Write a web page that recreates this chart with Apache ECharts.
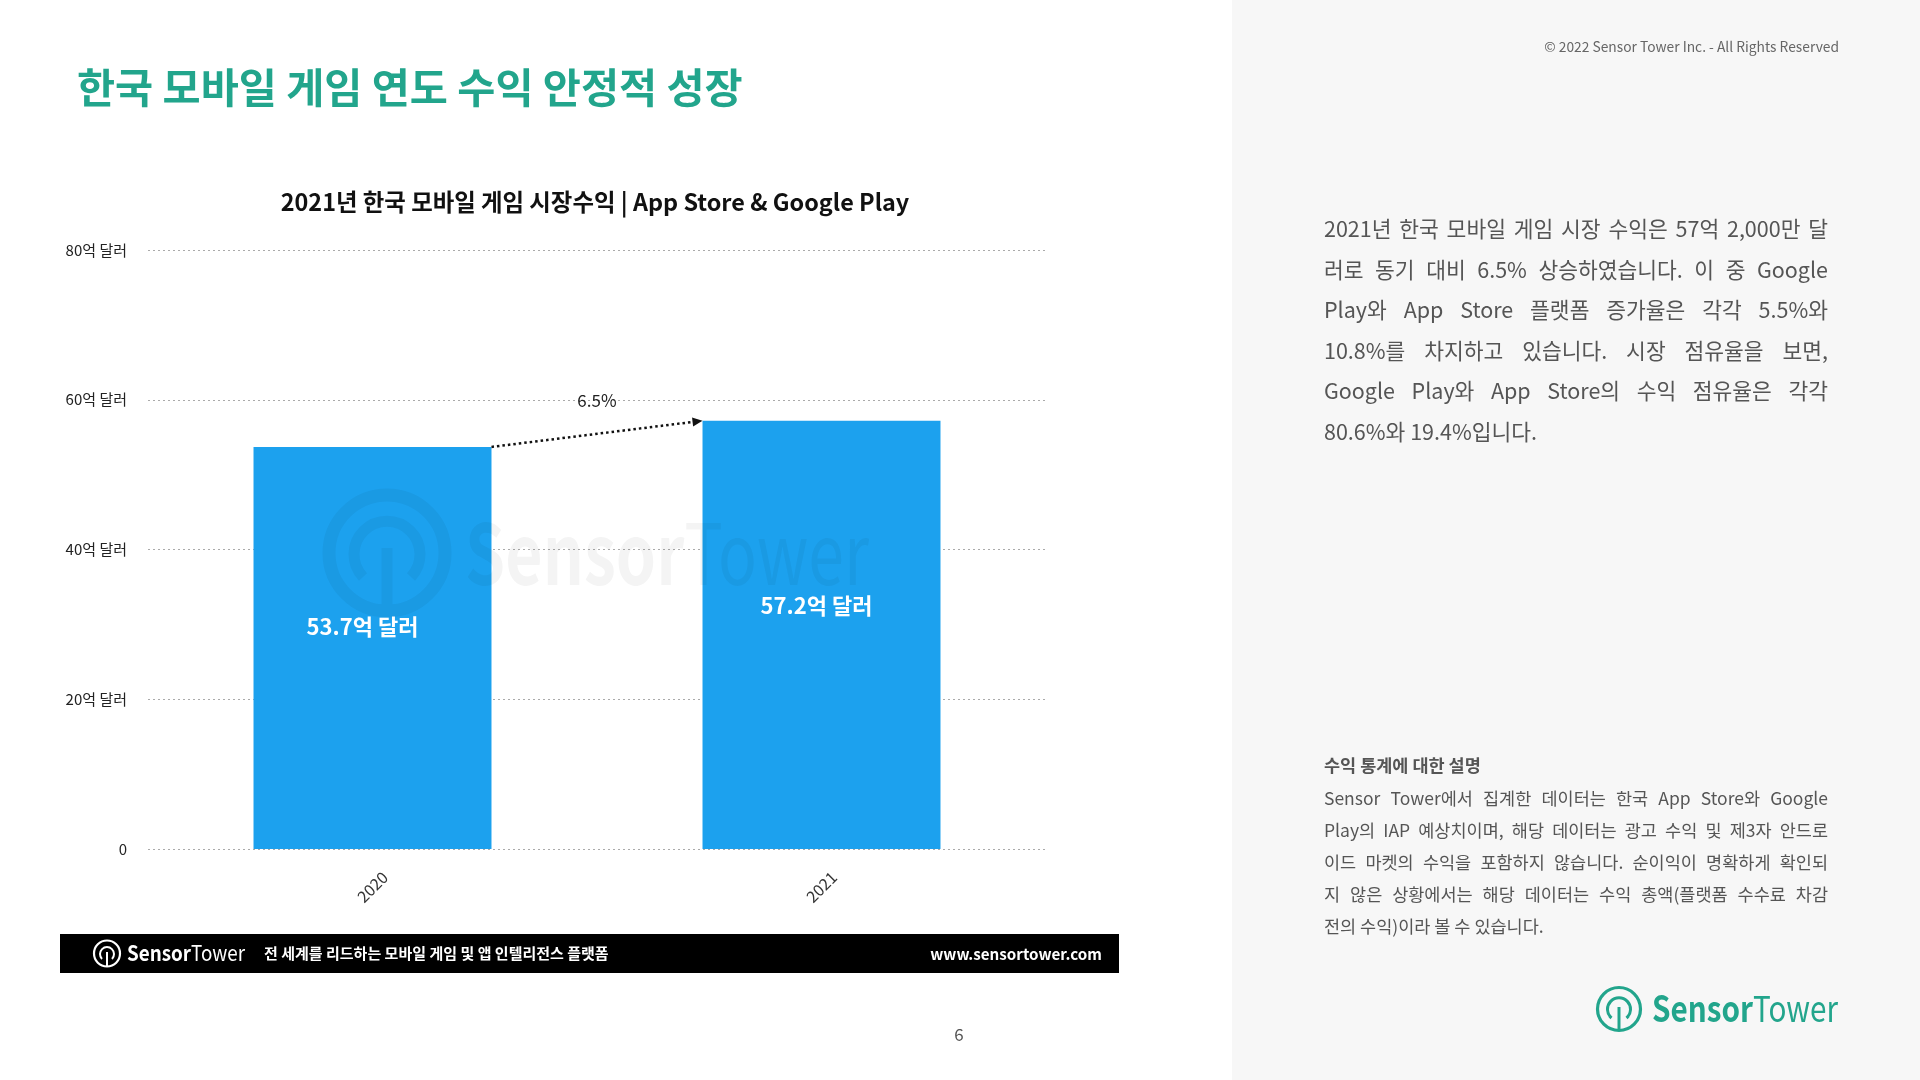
<!DOCTYPE html>
<html>
<head>
<meta charset="utf-8">
<title>한국 모바일 게임 연도 수익</title>
<script src="https://cdn.jsdelivr.net/npm/echarts@6/dist/echarts.min.js"></script>
<style>
  html, body { margin: 0; padding: 0; }
  body { width: 1920px; height: 1080px; position: relative; overflow: hidden; background: #fff;
         font-family: "Noto Sans CJK KR", "Noto Sans", sans-serif; }
  #chart { position: absolute; left: 0; top: 0; width: 1232px; height: 1080px; }
  #side { position: absolute; left: 1232px; top: 0; width: 688px; height: 1080px; background: #f7f7f7; }
  .abs { position: absolute; }
  .line { white-space: nowrap; text-align: justify; text-align-last: justify; }
  .last { white-space: nowrap; text-align: left; }
  #footer { position: absolute; left: 60px; top: 934px; width: 1059px; height: 39px; background: #000; color: #fff; }
  #water { position: absolute; left: 0; top: 0; pointer-events: none; }
</style>
</head>
<body>
<div id="chart"></div>

<!-- 워터마크 (차트 위에 옅게) -->
<svg id="water" width="1232" height="1080">
  <g opacity="0.045" fill="none" stroke="#000">
    <circle cx="387" cy="553" r="58" stroke-width="13"/>
    <path d="M 363 577 A 33 33 0 1 1 411 577" stroke-width="11"/>
    <line x1="387" y1="548" x2="387" y2="611" stroke-width="11"/>
  </g>
  <text x="465" y="585" fill="#000" opacity="0.045" font-size="84" font-family="Noto Sans CJK KR"
        textLength="404" lengthAdjust="spacingAndGlyphs"><tspan font-weight="bold">Sensor</tspan><tspan>Tower</tspan></text>
</svg>

<div id="footer">
  <svg class="abs" style="left:0;top:0" width="200" height="39">
    <g fill="none" stroke="#fff">
      <circle cx="47" cy="19.5" r="13" stroke-width="2.2"/>
      <path d="M 42 25 A 7 7 0 1 1 52 25" stroke-width="2"/>
      <line x1="47" y1="18" x2="47" y2="32.5" stroke-width="2"/>
    </g>
    <text x="67" y="27" fill="#fff" font-size="21" font-family="Noto Sans CJK KR" textLength="118" lengthAdjust="spacingAndGlyphs"><tspan font-weight="bold">Sensor</tspan><tspan>Tower</tspan></text>
  </svg>
  <div class="abs" style="left:204px;top:9px;font-size:15px;font-weight:bold;line-height:20px;">전 세계를 리드하는 모바일 게임 및 앱 인텔리전스 플랫폼</div>
  <div class="abs" style="right:17px;top:8px;font-size:15.2px;font-weight:bold;line-height:22px;">www.sensortower.com</div>
</div>

<div class="abs" style="left:949px;top:1022px;width:20px;text-align:center;font-size:17px;color:#555;line-height:24px;">6</div>

<div id="side">
  <div class="abs" style="right:81px;top:35px;font-size:13.8px;color:#666;line-height:22px;">© 2022 Sensor Tower Inc. - All Rights Reserved</div>

  <div class="abs" style="left:92px;top:208px;width:504px;font-size:21.5px;line-height:40.5px;color:#555;">
    <div class="line">2021년 한국 모바일 게임 시장 수익은 57억 2,000만 달</div>
    <div class="line">러로 동기 대비 6.5% 상승하였습니다. 이 중 Google</div>
    <div class="line">Play와 App Store 플랫폼 증가율은 각각 5.5%와</div>
    <div class="line">10.8%를 차지하고 있습니다. 시장 점유율을 보면,</div>
    <div class="line">Google Play와 App Store의 수익 점유율은 각각</div>
    <div class="last">80.6%와 19.4%입니다.</div>
  </div>

  <div class="abs" style="left:92px;top:753px;font-size:17.5px;font-weight:bold;color:#555;line-height:24px;">수익 통계에 대한 설명</div>
  <div class="abs" style="left:92px;top:782px;width:504px;font-size:17.5px;line-height:32px;color:#555;">
    <div class="line">Sensor Tower에서 집계한 데이터는 한국 App Store와 Google</div>
    <div class="line">Play의 IAP 예상치이며, 해당 데이터는 광고 수익 및 제3자 안드로</div>
    <div class="line">이드 마켓의 수익을 포함하지 않습니다. 순이익이 명확하게 확인되</div>
    <div class="line">지 않은 상황에서는 해당 데이터는 수익 총액(플랫폼 수수료 차감</div>
    <div class="last">전의 수익)이라 볼 수 있습니다.</div>
  </div>

  <svg class="abs" style="left:360px;top:980px" width="250" height="60">
    <g fill="none" stroke="#22a58c">
      <circle cx="27" cy="29" r="21.5" stroke-width="3.2"/>
      <path d="M 19.5 38 A 11.5 11.5 0 1 1 34.5 38" stroke-width="3"/>
      <line x1="27" y1="27" x2="27" y2="50" stroke-width="3"/>
    </g>
    <text x="60" y="42" fill="#22a58c" font-size="36" font-family="Noto Sans CJK KR" textLength="186" lengthAdjust="spacingAndGlyphs"><tspan font-weight="bold">Sensor</tspan><tspan>Tower</tspan></text>
  </svg>
</div>

<script>
// 데이터
const years = ['2020', '2021'];
const revenue = [53.7, 57.2];          // 억 달러
const unit = '억 달러';
const yMin = 0, yMax = 80, yStep = 20;
const growthLabel = ['6.5%'];          // 전년 대비 증가율

const FONT = '"Noto Sans CJK KR", "Noto Sans", sans-serif';
const BAR_RATIO = 0.53;
// 막대 안 라벨 위치 보정 (원본 슬라이드 배치)
const labelOffsets = [[-10, -21], [-5, -29]];

const chart = echarts.init(document.getElementById('chart'));

// 2020 막대 오른쪽 위 -> 2021 막대 왼쪽 위 점선 화살표
function renderArrow(params, api) {
  const p0 = api.coord([api.value(0), api.value(1)]);
  const p1 = api.coord([api.value(2), api.value(3)]);
  const half = api.size([1, 0])[0] * BAR_RATIO / 2;
  const x0 = p0[0] + half, y0 = p0[1];
  const x1 = p1[0] - half, y1 = p1[1];
  const ang = Math.atan2(y1 - y0, x1 - x0);
  const len = 10, wid = 4.5;
  const bx = x1 - len * Math.cos(ang), by = y1 - len * Math.sin(ang);
  const nx = -Math.sin(ang) * wid, ny = Math.cos(ang) * wid;
  return {
    type: 'group',
    children: [
      { type: 'line', shape: { x1: x0, y1: y0, x2: bx, y2: by },
        style: { stroke: '#111', lineWidth: 2.5, lineDash: [2.5, 3] } },
      { type: 'polygon', shape: { points: [[x1, y1], [bx + nx, by + ny], [bx - nx, by - ny]] },
        style: { fill: '#111' } },
      { type: 'text', x: (x0 + x1) / 2, y: (y0 + y1) / 2 - 33,
        style: { text: growthLabel[params.dataIndex], fontSize: 17, fill: '#222', fontFamily: FONT,
                 align: 'center', verticalAlign: 'middle' } }
    ]
  };
}

chart.setOption({
  animation: false,
  textStyle: { fontFamily: FONT },
  grid: { left: 148, right: 186, top: 250, bottom: 231 },
  xAxis: {
    type: 'category',
    data: years,
    axisLine: { show: false },
    axisTick: { show: false },
    axisLabel: { rotate: 45, align: 'center', verticalAlign: 'middle', margin: 38, fontSize: 16, color: '#333' }
  },
  yAxis: {
    type: 'value',
    min: yMin, max: yMax, interval: yStep,
    axisLabel: { formatter: v => v === 0 ? '0' : v + unit, fontSize: 15, color: '#222', margin: 21 },
    splitLine: { lineStyle: { type: [2, 3], color: '#aaa', width: 1 } }
  },
  series: [
    {
      type: 'bar',
      data: revenue.map((v, i) => ({ value: v, label: { offset: labelOffsets[i] } })),
      barWidth: (BAR_RATIO * 100) + '%',
      itemStyle: { color: '#1ca1ee' },
      label: {
        show: true, position: 'inside',
        formatter: p => p.value + unit,
        color: '#fff', fontSize: 22, fontWeight: 'bold'
      }
    },
    {
      type: 'custom',
      renderItem: renderArrow,
      data: [[0, revenue[0], 1, revenue[1]]],
      silent: true,
      z: 5
    }
  ],
  graphic: [
    { type: 'text', x: 77, y: 87,
      style: { text: '한국 모바일 게임 연도 수익 안정적 성장', fontSize: 41.4, fontWeight: 'bold',
               fill: '#22a58c', fontFamily: FONT, align: 'left', verticalAlign: 'middle' } },
    { type: 'text', x: 595, y: 202,
      style: { text: '2021년 한국 모바일 게임 시장수익 | App Store & Google Play', fontSize: 23.4, fontWeight: 'bold',
               fill: '#111', fontFamily: FONT, align: 'center', verticalAlign: 'middle' } }
  ]
});
</script>
</body>
</html>
